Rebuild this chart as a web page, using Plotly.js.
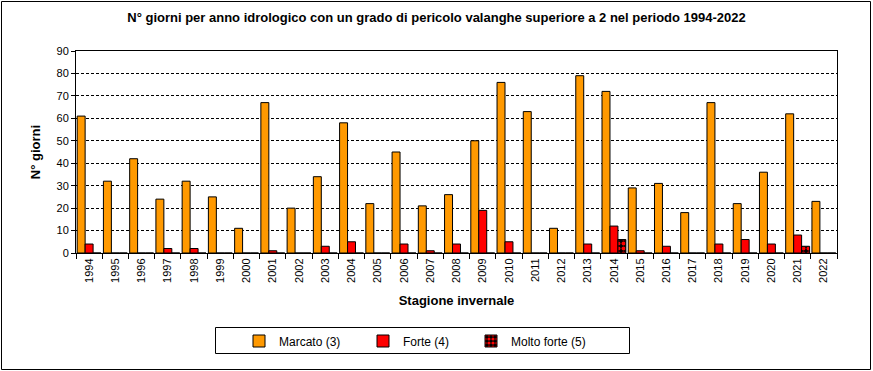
<!DOCTYPE html>
<html>
<head>
<meta charset="utf-8">
<script src="https://cdn.plot.ly/plotly-3.0.1.min.js"></script>
<style>
html,body{margin:0;padding:0;background:#fff;}
#chart{width:873px;height:371px;}
</style>
</head>
<body>
<div id="chart"></div>
<script>
const years = ["1994","1995","1996","1997","1998","1999","2000","2001","2002","2003","2004","2005","2006","2007","2008","2009","2010","2011","2012","2013","2014","2015","2016","2017","2018","2019","2020","2021","2022"];
const marcato = [61,32,42,24,32,25,11,67,20,34,58,22,45,21,26,50,76,63,11,79,72,29,31,18,67,22,36,62,23];
const forte = [4,0,0,2,2,0,0,1,0,3,5,0,4,1,4,19,5,0,0,4,12,1,3,0,4,6,4,8,0];
const moltoForte = [0,0,0,0,0,0,0,0,0,0,0,0,0,0,0,0,0,0,0,0,6,0,0,0,0,0,0,3,0];
const seriesNames = ["Marcato (3)","Forte (4)","Molto forte (5)"];

const font = "Liberation Sans, Arial, sans-serif";
const line = {color:"#000", width:1};
const W = 873, L = 76, R = 837, T = 51, B = 253;
const pw = R - L, ph = B - T;
const px = v => (v - L) / pw;
const py = v => (B - v) / ph;

const traces = [
  {type:"bar", name:seriesNames[0], x:years, y:marcato, marker:{color:"#FF9900", line:line}, legend:"legend"},
  {type:"bar", name:seriesNames[1], x:years, y:forte, marker:{color:"#FF0000", line:line}, legend:"legend2"},
  {type:"bar", name:seriesNames[2], x:years, y:moltoForte, legend:"legend3",
   marker:{color:"#000000", line:line, pattern:{shape:".", fgcolor:"#FF0000", bgcolor:"#000000", fillmode:"replace", size:5, solidity:0.5}}}
];

function leg(xpx){
  return {orientation:"h", x:px(xpx), xanchor:"left", y:py(326.5), yanchor:"top",
    font:{family:font, size:12, color:"#000"}, bgcolor:"rgba(0,0,0,0)", borderwidth:0};
}

const layout = {
  width:873, height:371,
  margin:{l:L, r:W-R, t:T, b:371-B},
  paper_bgcolor:"#fff", plot_bgcolor:"#fff",
  font:{family:font, size:11, color:"#000"},
  title:{text:"N° giorni per anno idrologico con un grado di pericolo valanghe superiore a 2 nel periodo 1994-2022",
    font:{family:font, size:13, weight:"bold", color:"#000"},
    x:0.5, xanchor:"center", y:0.952, yanchor:"middle"},
  barmode:"group", bargap:0.09, bargroupgap:0,
  showlegend:true,
  legend:leg(239), legend2:leg(363), legend3:leg(471),
  xaxis:{type:"category", tickangle:-90, tickson:"boundaries", ticks:"outside", ticklen:5,
    tickcolor:"#000", showline:true, linecolor:"#000", linewidth:1, mirror:true,
    showgrid:false, tickfont:{family:font, size:11, color:"#000"},
    title:{text:"Stagione invernale", font:{family:font, size:13, weight:"bold", color:"#000"}, standoff:14}},
  yaxis:{range:[0,90], dtick:10, ticks:"outside", ticklen:4, tickcolor:"#000",
    showline:true, linecolor:"#000", linewidth:1, mirror:true,
    showgrid:true, gridcolor:"#000", gridwidth:1, griddash:"3px,2px", zeroline:false,
    tickfont:{family:font, size:11, color:"#000"},
    title:{text:"N° giorni", font:{family:font, size:13, weight:"bold", color:"#000"}, standoff:12}},
  shapes:[
    {type:"rect", xref:"paper", yref:"paper",
     x0:px(215.5), x1:px(629.5), y0:py(353.5), y1:py(327.5),
     line:{color:"#000", width:1}, fillcolor:"rgba(0,0,0,0)", layer:"below"},
    {type:"rect", xref:"paper", yref:"paper",
     x0:px(1.5), x1:px(870.5), y0:py(369.5), y1:py(1.5),
     line:{color:"#000", width:1}, fillcolor:"rgba(0,0,0,0)", layer:"below"}
  ]
};

Plotly.newPlot("chart", traces, layout, {displayModeBar:false, staticPlot:true});
</script>
</body>
</html>
